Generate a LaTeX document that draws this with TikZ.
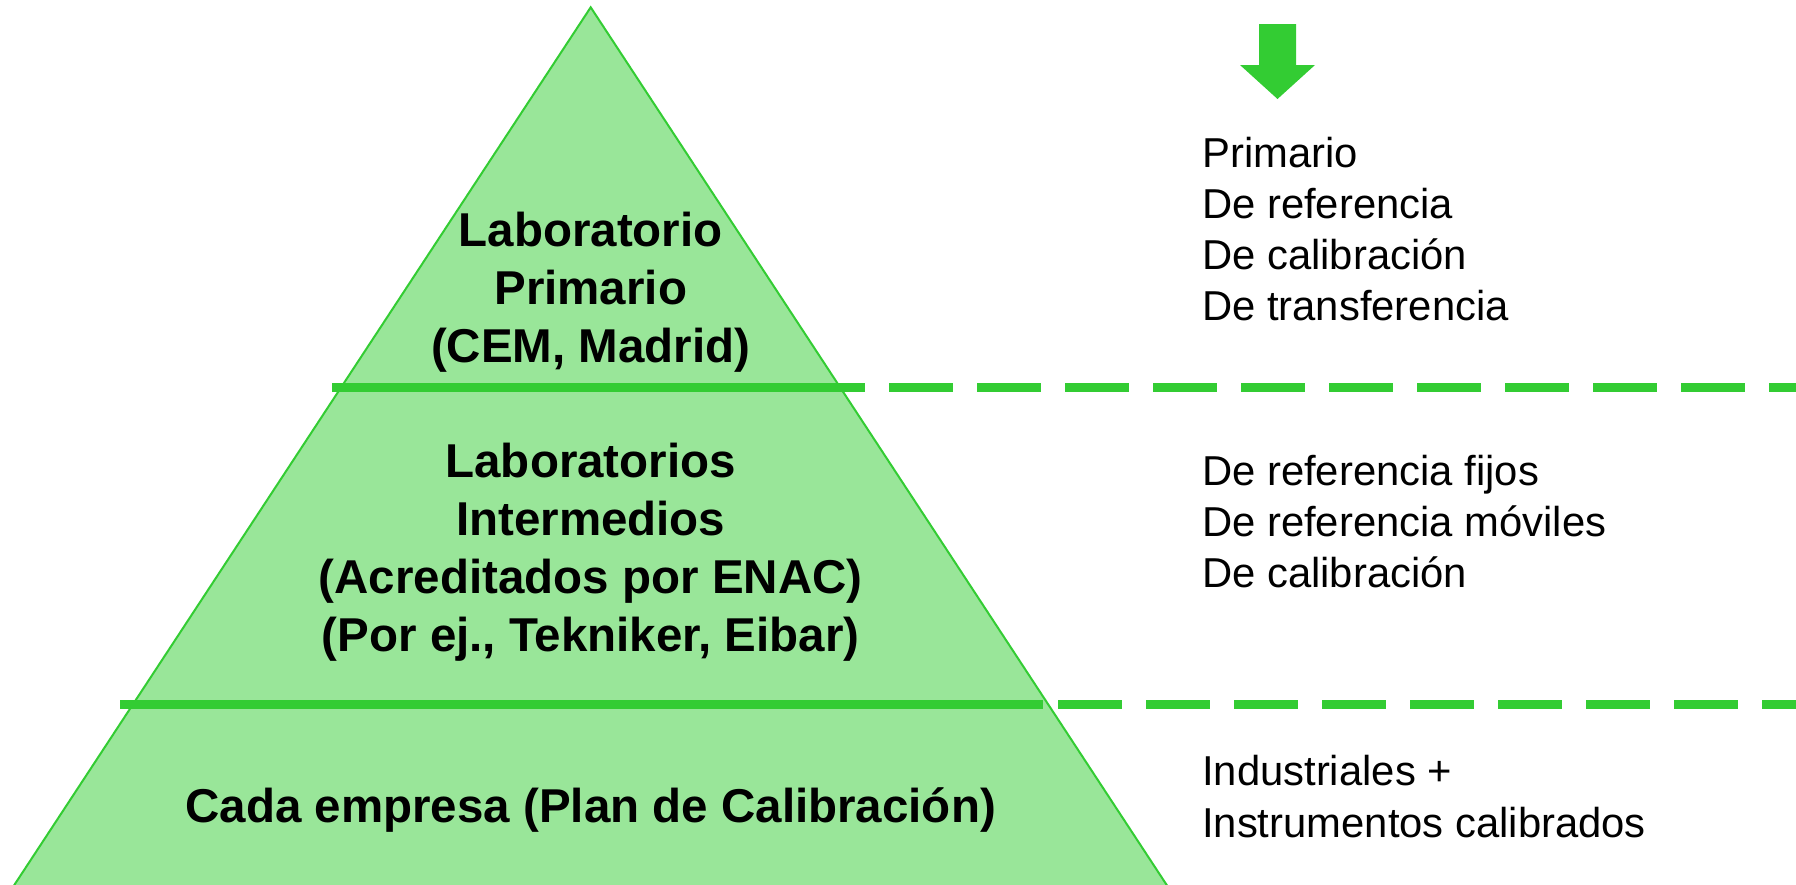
\documentclass[tikz,border=0pt]{standalone}
\usepackage{fontspec}
\setmainfont{Liberation Sans}
\definecolor{lg}{HTML}{33CC33}
\definecolor{lfill}{HTML}{99E699}
\begin{document}
\begin{tikzpicture}[x=1pt,y=-1pt,
  boldtxt/.style={font=\fontsize{47.5}{58}\selectfont\bfseries, inner sep=0, anchor=base},
  item/.style={font=\fontsize{41.8}{51}\selectfont, inner sep=0, anchor=base west},
  sep/.style={draw=lg, line width=8.5pt},
  sepdash/.style={sep, dash pattern=on 64pt off 24pt},
  edge/.style={draw=lg, line width=2pt, line join=miter}]
\useasboundingbox (0,0) rectangle (1796,884);
\clip (0,0) rectangle (1796,884);
% pyramid
\coordinate (apex) at (590.7,7.3);
\coordinate (bl) at (11,890);
\coordinate (br) at (1170,890);
\fill[lfill] (apex) -- (bl) -- (br) -- cycle;
\draw[edge] (bl) -- (apex) -- (br);
% separators
\coordinate (l1a) at (332,387.5);
\coordinate (l1b) at (865,387.5);
\coordinate (l1c) at (889,387.5);
\coordinate (l1d) at (1800,387.5);
\draw[sep] (l1a) -- (l1b);
\draw[sepdash] (l1c) -- (l1d);
\coordinate (l2a) at (120,704.7);
\coordinate (l2b) at (1043,704.7);
\coordinate (l2c) at (1058,704.7);
\coordinate (l2d) at (1800,704.7);
\draw[sep] (l2a) -- (l2b);
\draw[sepdash] (l2c) -- (l2d);
% arrow
\fill[lg] (1259,24) -- (1296,24) -- (1296,65) -- (1315,65) -- (1277.5,99) -- (1240,65) -- (1259,65) -- cycle;
% pyramid texts
\node[boldtxt] (p1) at (590.7,246) {Laboratorio};
\node[boldtxt] (p2) at (590.7,304) {Primario};
\node[boldtxt] (p3) at (590.7,362) {(CEM, Madrid)};
\node[boldtxt] (m1) at (590.7,477) {Laboratorios};
\node[boldtxt] (m2) at (590.7,535) {Intermedios};
\node[boldtxt] (m3) at (590.7,593) {(Acreditados por ENAC)};
\node[boldtxt] (m4) at (590.7,651) {(Por ej., Tekniker, Eibar)};
\node[boldtxt] (b1) at (590.7,822) {Cada empresa (Plan de Calibración)};
% right lists
\node[item] (r1) at (1202,167) {Primario};
\node[item] (r2) at (1202,218) {De referencia};
\node[item] (r3) at (1202,269) {De calibración};
\node[item] (r4) at (1202,320) {De transferencia};
\node[item] (s1) at (1202,485) {De referencia fijos};
\node[item] (s2) at (1202,536) {De referencia móviles};
\node[item] (s3) at (1202,587) {De calibración};
\node[item] (t1) at (1202,785) {Industriales +};
\node[item] (t2) at (1202,837) {Instrumentos calibrados};
\end{tikzpicture}
\end{document}
